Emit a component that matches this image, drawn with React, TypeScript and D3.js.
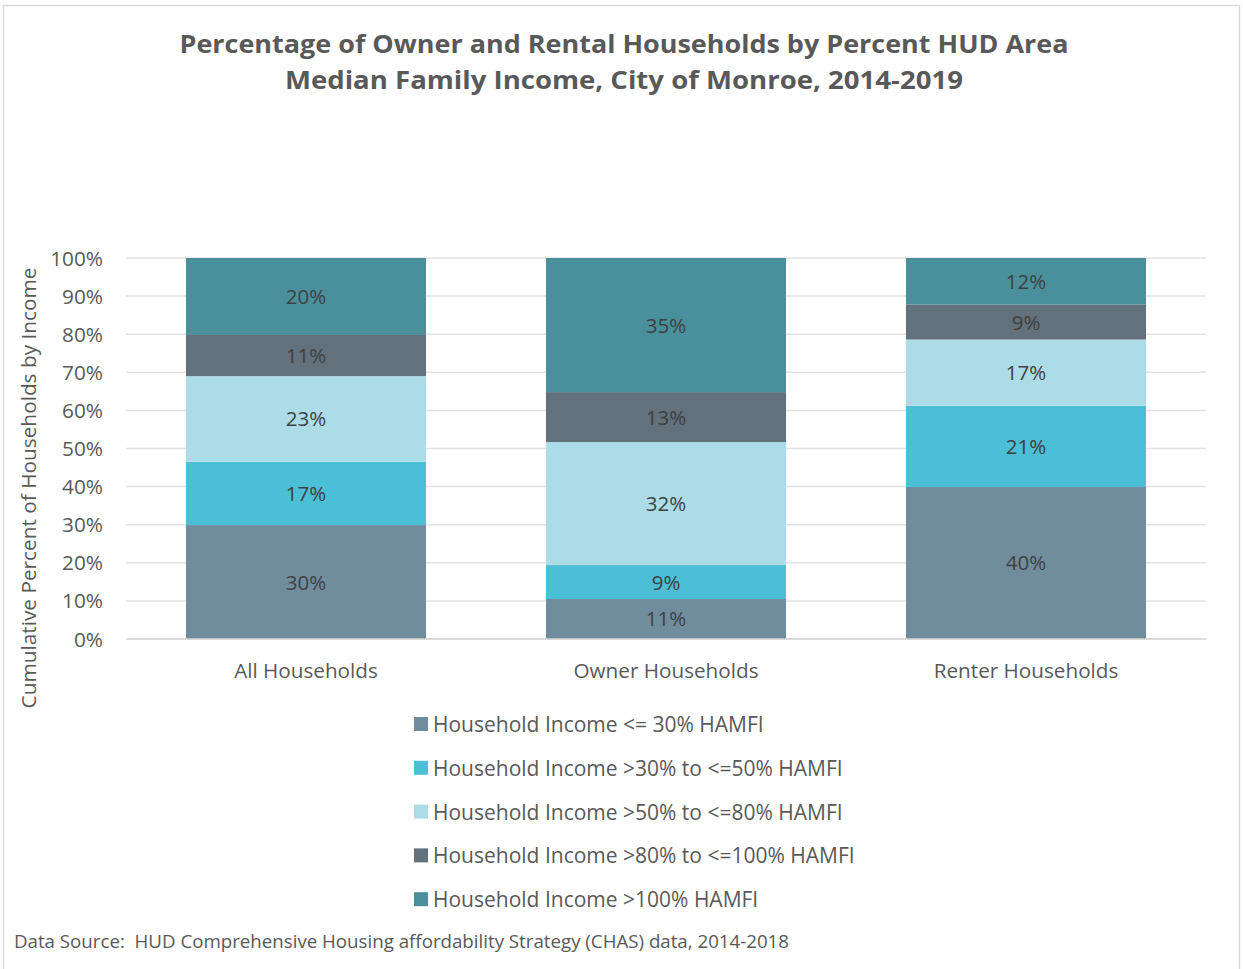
import React from "react";
import * as d3 from "d3";

const categories = ["All Households", "Owner Households", "Renter Households"];
const seriesNames = [
  "Household Income <= 30% HAMFI",
  "Household Income >30% to <=50% HAMFI",
  "Household Income >50% to <=80% HAMFI",
  "Household Income >80% to <=100% HAMFI",
  "Household Income >100% HAMFI",
];
const le30 = [29.9, 10.5, 39.9];
const r30to50 = [16.6, 8.9, 21.3];
const r50to80 = [22.5, 32.3, 17.4];
const r80to100 = [10.8, 13.1, 9.2];
const gt100 = [20.2, 35.2, 12.2];
const yTicks = [0, 10, 20, 30, 40, 50, 60, 70, 80, 90, 100];
const colors = ["#708d9e", "#4bbfd5", "#acdce7", "#62717b", "#4a909c"];

const W = 1243, H = 969;
const plot = { left: 126, right: 1206, top: 258, bottom: 639 };
const FONT = "'Open Sans', sans-serif";

export default function App() {
  const series = [le30, r30to50, r50to80, r80to100, gt100];
  const x = d3.scaleBand().domain(categories).range([plot.left, plot.right]).paddingInner(1 / 3).paddingOuter(1 / 6);
  const y = d3.scaleLinear().domain([0, 100]).range([plot.bottom, plot.top]);
  const rows = categories.map((c, i) => {
    const o: any = { cat: c };
    series.forEach((s, k) => (o["s" + k] = s[i]));
    return o;
  });
  const stack = d3.stack().keys(series.map((_, k) => "s" + k))(rows as any);

  return (
    <svg width={W} height={H} style={{ position: "absolute", left: 0, top: 0, background: "#fff" }} fontFamily={FONT}>
      <rect x={3.5} y={5.5} width={1236} height={980} fill="#fff" stroke="#d9d9d9" strokeWidth={1.5} />
      <text x={624} y={53} textAnchor="middle" fontSize={25} fontWeight="bold" fill="#595959" textLength={889} lengthAdjust="spacingAndGlyphs">
        Percentage of Owner and Rental Households by Percent HUD Area
      </text>
      <text x={624} y={89} textAnchor="middle" fontSize={25} fontWeight="bold" fill="#595959" textLength={678} lengthAdjust="spacingAndGlyphs">
        Median Family Income, City of Monroe, 2014-2019
      </text>
      {yTicks.map((t) => (
        <g key={t}>
          {t > 0 && <line x1={plot.left} x2={plot.right} y1={y(t)} y2={y(t)} stroke="#e3e3e3" strokeWidth={1.5} />}
          <text x={103} y={y(t) + 7.5} textAnchor="end" fontSize={20.8} fill="#595959">{t + "%"}</text>
        </g>
      ))}
      {stack.map((layer, k) =>
        layer.map((d, i) => {
          const x0 = x(categories[i])!;
          const y0 = y(d[1]), y1 = y(d[0]);
          return <rect key={k + "-" + i} x={x0} y={y0} width={x.bandwidth()} height={y1 - y0} fill={colors[k]} />;
        })
      )}
      <line x1={plot.left} x2={plot.right} y1={plot.bottom} y2={plot.bottom} stroke="#d0d0d0" strokeWidth={1.5} />
      {stack.map((layer, k) =>
        layer.map((d, i) => {
          const cx = x(categories[i])! + x.bandwidth() / 2;
          const cy = (y(d[0]) + y(d[1])) / 2;
          return (
            <text key={"l" + k + "-" + i} x={cx} y={cy + 7.5} textAnchor="middle" fontSize={20.5} fill="#404040">
              {Math.round(series[k][i]) + "%"}
            </text>
          );
        })
      )}
      {categories.map((c) => (
        <text key={c} x={x(c)! + x.bandwidth() / 2} y={678} textAnchor="middle" fontSize={20.7} fill="#595959">{c}</text>
      ))}
      <text transform={`translate(36,488) rotate(-90)`} textAnchor="middle" fontSize={20.8} fill="#595959">
        Cumulative Percent of Households by Income
      </text>
      {seriesNames.map((n, k) => (
        <g key={n}>
          <rect x={414} y={717 + k * 43.8} width={14} height={14} fill={colors[k]} />
          <text x={433} y={732 + k * 43.8} fontSize={21} fill="#595959">{n}</text>
        </g>
      ))}
      <text x={14} y={948} fontSize={18} fill="#595959" textLength={775} lengthAdjust="spacingAndGlyphs" style={{ whiteSpace: "pre" }}>
        {"Data Source:  HUD Comprehensive Housing affordability Strategy (CHAS) data, 2014-2018"}
      </text>
    </svg>
  );
}
